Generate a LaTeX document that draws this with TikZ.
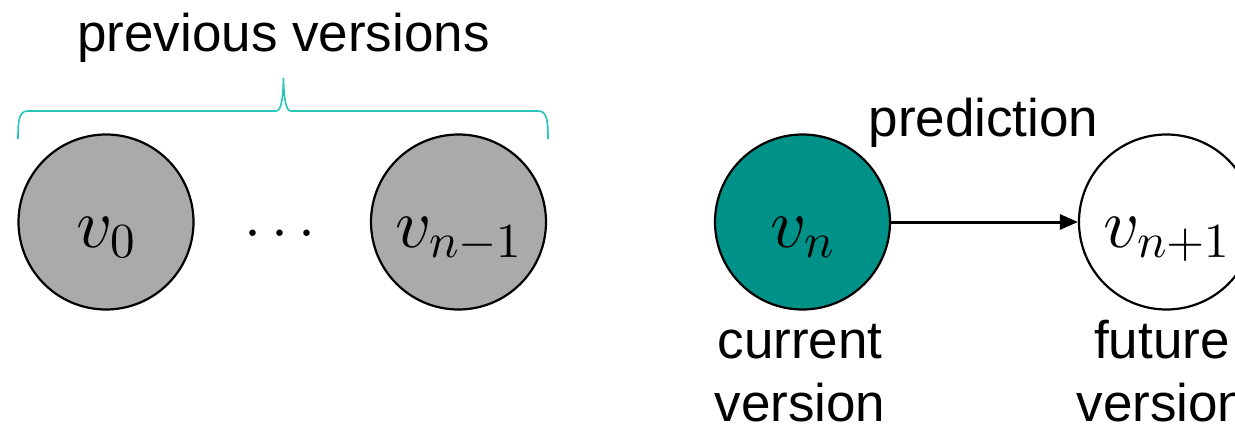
\documentclass[tikz,border=0pt]{standalone}
\usepackage[no-math]{fontspec}
\setmainfont{Liberation Sans}
\DeclareFontShape{OML}{cmm}{m}{it}{<->cmmi10}{}
\DeclareFontShape{OMS}{cmsy}{m}{n}{<->cmsy10}{}
\DeclareFontShape{OT1}{cmr}{m}{n}{<->cmr10}{}
\DeclareFontShape{OMX}{cmex}{m}{n}{<->cmex10}{}
\usetikzlibrary{arrows.meta}
\definecolor{oldgray}{RGB}{170,170,170}
\definecolor{curteal}{RGB}{0,146,136}
\definecolor{bracecol}{RGB}{40,198,186}
\tikzset{
  vers/.style={circle, draw=black, line width=2.2pt, minimum size=175pt, inner sep=0pt,
    font=\fontsize{70}{70}\selectfont, text height=50pt, text depth=0pt},
  lbl/.style={font=\fontsize{53}{65}\selectfont, inner sep=0pt, anchor=base},
  pred/.style={line width=3pt, -{Triangle[length=18pt,width=15pt]}},
  bracestyle/.style={draw=bracecol, line width=1.6pt}
}
\newcommand{\vlab}[1]{$#1$\hspace{20pt}}
\begin{document}
\begin{tikzpicture}[x=1pt,y=-1pt]
\useasboundingbox (0,0) rectangle (1235,425);
\clip (0,0) rectangle (1235,425);
% previous versions
\node[lbl] (prevlbl) at (283.5,52) {previous versions};
\draw[bracestyle] (18,139) .. controls (18,120) and (19,111) .. (28,111)
  -- (276,111) .. controls (281,111) and (283,100) .. (283.5,78)
  .. controls (284,100) and (286,111) .. (291,111)
  -- (538,111) .. controls (547,111) and (548,120) .. (548,139);
\node[vers, fill=oldgray] (v0) at (106,222) {\vlab{v_0}};
\node[font=\fontsize{61}{61}\selectfont, inner sep=0pt, anchor=base] (dots) at (280,248) {$\cdots$};
\node[vers, fill=oldgray] (vm1) at (458.5,222) {\vlab{v_{n-1}}};
% current and future
\node[vers, fill=curteal] (vn) at (802.5,222) {\vlab{v_n}};
\node[vers, fill=white] (vp1) at (1166.5,222) {\vlab{v_{n+1}}};
\draw[pred] (vn.east) -- (vp1.west);
\node[lbl] (predlbl) at (983.5,137) {prediction};
\node[lbl] (cur1) at (800,358) {current};
\node[lbl] (cur2) at (800,421) {version};
\node[lbl] (fut1) at (1162,358) {future};
\node[lbl] (fut2) at (1162,421) {version};
\end{tikzpicture}
\end{document}
